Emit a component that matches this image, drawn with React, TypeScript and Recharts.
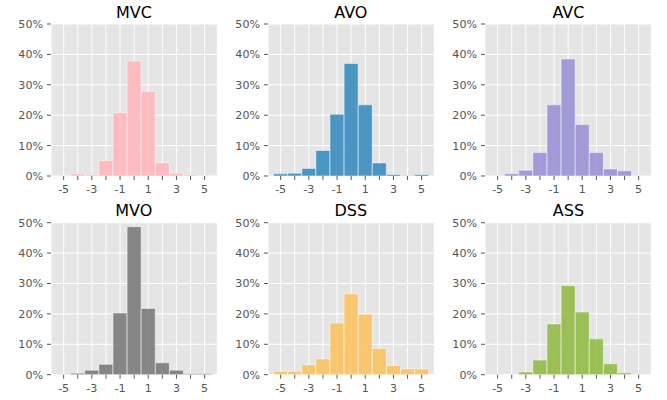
import React from 'react';
import { BarChart, Bar, XAxis, YAxis, CartesianGrid } from 'recharts';

const bins = [-5, -4, -3, -2, -1, 0, 1, 2, 3, 4, 5];
const mvc = [0.2, 0.7, 0.5, 5.1, 20.8, 37.8, 27.8, 4.3, 0.9, 0.5, 0.2];
const avo = [0.7, 0.9, 2.5, 8.4, 20.3, 37.0, 23.4, 4.3, 0.5, 0.2, 0.5];
const avc = [0.1, 0.7, 1.9, 7.7, 23.4, 38.5, 16.9, 7.7, 2.3, 1.7, 0.1];
const mvo = [0.1, 0.5, 1.5, 3.4, 20.3, 48.7, 21.8, 3.9, 1.5, 0.3, 0.3];
const dss = [1.1, 1.1, 3.2, 5.2, 17.0, 26.6, 19.9, 8.6, 3.0, 1.9, 1.9];
const ass = [0.05, 0, 0.9, 4.8, 16.7, 29.3, 20.6, 11.8, 3.6, 0.6, 0.05];
const yTicks = [0, 10, 20, 30, 40, 50];

const titles = ['MVC', 'AVO', 'AVC', 'MVO', 'DSS', 'ASS'];
const seriesList = [mvc, avo, avc, mvo, dss, ass];
const colors = ['#FFB5B8', '#348ABD', '#988ED5', '#777777', '#FBC15E', '#8EBA42'];

const colLefts = [50.7, 267.7, 485.3];
const rowTops = [0, 200];
const plotTops = [24, 222.7];
const plotW = 166.3;
const plotH = 152;
const yAxisW = 50;
const FONT = 'DejaVu Sans';

function Panel({ values, color, col, row }: { values: number[]; color: string; col: number; row: number }) {
  const data = bins.map((b, i) => ({ x: b, v: values[i] }));
  const marginTop = plotTops[row] - rowTops[row];
  const xAxisH = 200 - marginTop - plotH;
  return (
    <div style={{ position: 'absolute', left: colLefts[col] - yAxisW, top: rowTops[row] }}>
      <BarChart
        width={yAxisW + plotW + 6}
        height={200}
        data={data}
        margin={{ top: marginTop, right: 6, bottom: 0, left: 0 }}
        barCategoryGap={0}
        barGap={0}
      >
        <CartesianGrid fill="#E5E5E5" stroke="#FFFFFF" strokeWidth={1} />
        <XAxis
          dataKey="x"
          type="category"
          interval={0}
          height={xAxisH}
          padding={{ left: 5.6, right: 5.6 }}
          axisLine={false}
          tickLine={{ stroke: '#555555' }}
          tickSize={4}
          tickMargin={5.5}
          tickFormatter={(v: number) => (Math.abs(v) % 2 === 1 ? String(v) : '')}
          tick={{ fill: '#555555', fontSize: 11.1, fontFamily: FONT }}
        />
        <YAxis
          type="number"
          domain={[0, 50]}
          ticks={yTicks}
          width={yAxisW}
          axisLine={false}
          tickLine={{ stroke: '#555555' }}
          tickSize={4}
          tickMargin={4}
          tickFormatter={(v: number) => `${v}%`}
          tick={{ fill: '#555555', fontSize: 11.1, fontFamily: FONT }}
          allowDataOverflow
        />
        <Bar
          dataKey="v"
          fill={color}
          fillOpacity={0.88}
          stroke="#FFFFFF"
          strokeOpacity={0.6}
          strokeWidth={0.8}
          isAnimationActive={false}
        />
      </BarChart>
    </div>
  );
}

export default function App() {
  return (
    <div
      style={{
        position: 'absolute',
        left: 0,
        top: 0,
        width: 667,
        height: 400,
        background: '#FFFFFF',
        fontFamily: FONT,
      }}
    >
      {seriesList.map((vals, i) => (
        <Panel key={titles[i]} values={vals} color={colors[i]} col={i % 3} row={Math.floor(i / 3)} />
      ))}
      <svg width={667} height={400} style={{ position: 'absolute', left: 0, top: 0, pointerEvents: 'none' }}>
        {titles.map((t, i) => {
          const col = i % 3;
          const row = Math.floor(i / 3);
          return (
            <text
              key={t}
              x={colLefts[col] + plotW / 2}
              y={row === 0 ? 17.5 : 216}
              textAnchor="middle"
              fontFamily={FONT}
              fontSize={16}
              fill="#000000"
            >
              {t}
            </text>
          );
        })}
      </svg>
    </div>
  );
}
